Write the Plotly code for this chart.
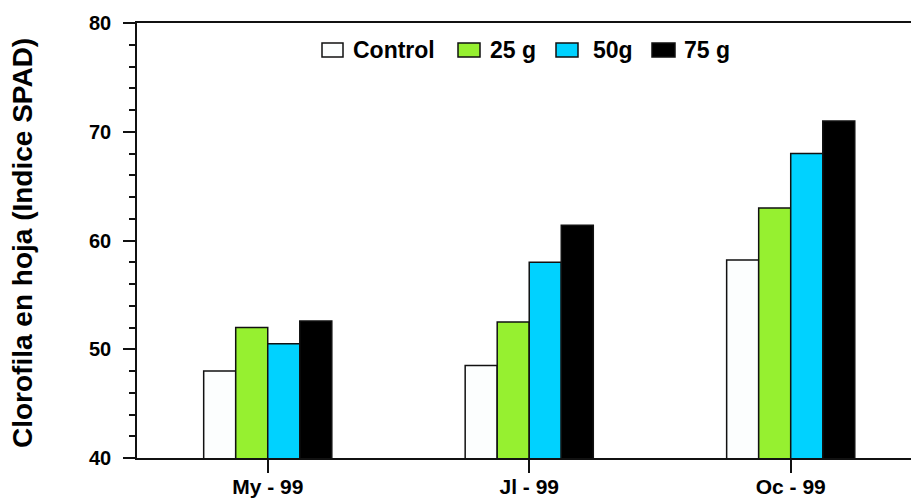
import plotly.graph_objects as go

# Leaf chlorophyll (SPAD index) by sampling date and treatment
fechas = ["My - 99", "Jl - 99", "Oc - 99"]
tratamientos = ["Control", "25 g", "50g", "75 g"]
control = [48.0, 48.5, 58.2]
dosis_25 = [52.0, 52.5, 63.0]
dosis_50 = [50.5, 58.0, 68.0]
dosis_75 = [52.6, 61.4, 71.0]

series = [control, dosis_25, dosis_50, dosis_75]
colores = ["#FCFEFE", "#96F030", "#00D2FF", "#000000"]

FONT = "Liberation Sans"

fig = go.Figure()
for nombre, valores, color in zip(tratamientos, series, colores):
    fig.add_trace(go.Bar(
        x=fechas, y=valores, name=nombre,
        marker=dict(color=color, line=dict(color="#111111", width=1.5)),
        showlegend=False,
    ))

# Plot area geometry in pixels (used to place the hand-drawn key)
W, H = 911, 500
L, R, T, B = 137, 0, 23, 42
pw, ph = W - L - R, H - T - B


def px(x):
    return (x - L) / pw


def py(y):
    return (H - B - y) / ph


# Key: swatch boxes and labels across the top of the plot
cajas = [(322, 343), (458, 480), (556, 578), (652, 675)]
textos_x = [351, 488, 591, 682]
shapes = []
annotations = []
for (x0, x1), tx, nombre, color in zip(cajas, textos_x, tratamientos, colores):
    shapes.append(dict(type="rect", xref="paper", yref="paper",
                       x0=px(x0), x1=px(x1), y0=py(57), y1=py(43),
                       fillcolor=color, line=dict(color="#111111", width=1.5)))
    annotations.append(dict(x=px(tx), y=py(50), xref="paper", yref="paper",
                            text=f"<b>{nombre}</b>", showarrow=False,
                            xanchor="left", yanchor="middle",
                            font=dict(family=FONT, size=23, color="#000")))

# Vertical axis title
annotations.append(dict(x=px(22), y=py(243), xref="paper", yref="paper",
                        text="<b>Clorofila en hoja (Indice SPAD)</b>",
                        showarrow=False, textangle=-90,
                        xanchor="center", yanchor="middle",
                        font=dict(family=FONT, size=28, color="#000")))

fig.update_layout(
    width=W, height=H,
    margin=dict(l=L, r=R, t=T, b=B, pad=0, autoexpand=False),
    paper_bgcolor="white", plot_bgcolor="white",
    barmode="group", bargap=0.51, bargroupgap=0,
    shapes=shapes, annotations=annotations,
    font=dict(family=FONT, color="#000"),
)
fig.update_xaxes(
    range=[-0.5, 2.46], showgrid=False, showline=True, linecolor="#111",
    linewidth=1.5, mirror=True, ticks="outside", ticklen=13, tickwidth=1.5,
    tickcolor="#111", tickfont=dict(family=FONT, size=21, weight="bold"),
    ticklabelstandoff=-4, automargin=False,
)
fig.update_yaxes(
    range=[40, 80], dtick=10, showgrid=False, showline=True, linecolor="#111",
    linewidth=1.5, ticks="outside", ticklen=12, tickwidth=1.5, tickcolor="#111",
    tickfont=dict(family=FONT, size=20, weight="bold"), ticklabelstandoff=8,
    minor=dict(dtick=2, ticks="outside", ticklen=6, tickwidth=1.5, tickcolor="#111"),
    zeroline=False, automargin=False,
)

fig.write_html("out.html")
